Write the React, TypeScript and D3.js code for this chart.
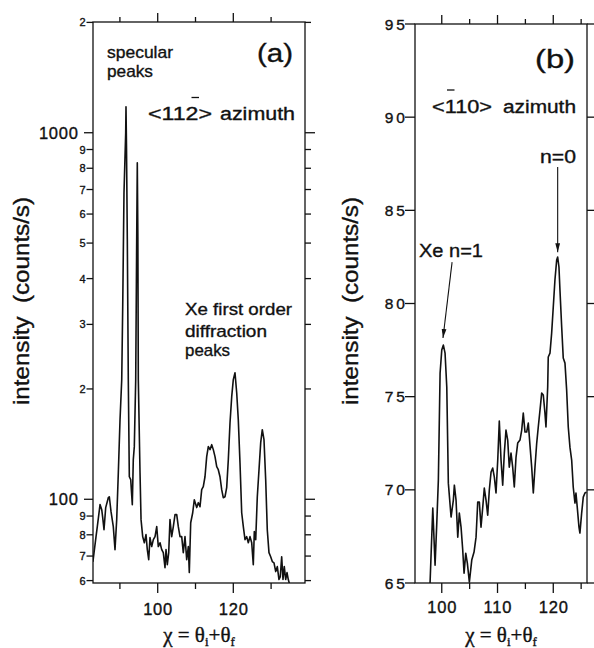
import React from 'react';
import * as d3 from 'd3';

// ---- Panel (a): <11-2> azimuth, log intensity ----
const aChi = [82.85, 83.68, 84.02, 84.74, 85.19, 85.45, 85.79, 86.24, 86.93, 87.2, 87.65, 88.25, 88.7, 89.15, 89.58, 90.03, 90.48, 90.74, 91.08, 91.53, 91.61, 91.75, 91.96, 92.22, 92.49, 92.86, 93.28, 93.54, 93.81, 94.18, 94.44, 94.6, 94.75, 94.87, 95.32, 95.59, 96.03, 96.46, 96.9, 97.25, 97.62, 97.96, 98.41, 98.84, 99.29, 99.74, 100.16, 100.61, 101.06, 101.48, 101.93, 102.2, 102.54, 102.91, 103.25, 103.7, 104.13, 104.58, 105.03, 105.45, 105.9, 106.35, 106.77, 107.22, 107.67, 108.1, 108.36, 108.73, 109.26, 109.68, 110.32, 110.74, 111.19, 111.64, 112.06, 112.51, 112.96, 113.39, 113.84, 114.29, 114.71, 115.16, 115.61, 116.03, 116.48, 116.93, 117.35, 117.8, 118.25, 118.68, 119.13, 119.58, 120.0, 120.45, 120.9, 121.32, 121.77, 122.22, 122.65, 123.1, 123.54, 123.97, 124.42, 124.87, 125.29, 125.56, 125.93, 126.35, 126.8, 127.25, 127.67, 128.12, 128.57, 128.99, 129.44, 129.89, 130.32, 130.77, 131.22, 131.64, 132.09, 132.43, 132.8, 133.15, 133.49, 133.86, 134.21, 134.55, 134.92];
const aIntensity = [67.5, 79.1, 84.2, 96.7, 93.7, 89.1, 82.6, 94.9, 101.0, 101.6, 92.5, 84.2, 72.9, 88.0, 118.2, 164.9, 212, 335, 686, 1000, 1177, 900, 511, 212, 115.2, 113.1, 96.7, 128.2, 139.2, 212, 511, 828, 520, 212, 118.2, 88.0, 79.1, 76.1, 80.1, 72.9, 68.4, 78.6, 74.3, 77.6, 79.1, 84.2, 74.3, 76.1, 72.9, 71.5, 65.1, 72.9, 66.3, 71.5, 88.0, 79.1, 84.2, 90.8, 90.8, 84.2, 79.1, 79.1, 71.5, 79.1, 68.4, 74.3, 63.1, 86.3, 91.9, 99.7, 94.9, 97.9, 95.4, 106.2, 108.2, 115.2, 130.7, 139.2, 136.6, 140.9, 136.6, 130.7, 122.7, 120.4, 115.2, 106.2, 101.0, 101.6, 107.6, 128.2, 161.8, 190.5, 212, 221.4, 195.3, 164.9, 125.8, 91.9, 84.2, 77.6, 79.1, 76.1, 79.1, 76.1, 66.3, 81.6, 77.6, 101.6, 120.4, 142.7, 154.8, 145.4, 113.1, 82.6, 71.5, 69.7, 67.6, 67.1, 63.5, 65.5, 60.4, 61.5, 69.7, 60.4, 65.5, 60.4, 63.1, 60.4, 58.5];

// ---- Panel (b): <-110> azimuth, linear intensity ----
const bChi = [97.9, 98.39, 98.8, 99.1, 99.39, 99.7, 100.0, 100.29, 100.59, 100.9, 101.18, 101.67, 102.08, 102.26, 102.56, 102.87, 103.15, 103.46, 103.76, 104.0, 104.3, 104.59, 104.95, 105.38, 105.79, 106.15, 106.45, 106.74, 107.04, 107.35, 107.63, 107.94, 108.24, 108.53, 108.84, 109.14, 109.43, 109.73, 110.04, 110.32, 110.63, 110.93, 111.22, 111.52, 111.83, 112.11, 112.42, 112.72, 113.01, 113.32, 113.62, 114.03, 114.34, 114.62, 114.93, 115.23, 115.52, 115.82, 116.13, 116.42, 116.72, 117.03, 117.31, 117.62, 117.92, 118.21, 118.51, 118.69, 119.0, 119.1, 119.41, 119.71, 120.0, 120.3, 120.61, 120.79, 121.02, 121.2, 121.51, 121.79, 122.1, 122.4, 122.69, 122.99, 123.3, 123.58, 123.89, 124.07, 124.3, 124.61, 124.78, 125.09, 125.38, 125.68, 125.95];
const bIntensity = [65.0, 69.02, 65.96, 68.16, 70.52, 76.27, 77.5, 77.77, 77.34, 75.52, 70.36, 68.54, 69.45, 70.25, 69.45, 67.46, 68.75, 68.0, 66.77, 65.53, 66.6, 66.07, 65.05, 66.23, 66.66, 67.46, 69.34, 69.34, 68.0, 69.07, 70.09, 69.45, 68.64, 69.99, 70.95, 71.17, 70.68, 69.83, 71.6, 73.69, 71.6, 70.25, 71.97, 73.21, 72.67, 71.22, 71.97, 71.22, 70.15, 71.76, 72.51, 72.67, 73.21, 74.12, 73.1, 73.1, 73.58, 72.4, 71.22, 69.83, 71.22, 72.51, 73.37, 74.28, 75.19, 75.09, 74.12, 73.37, 75.52, 77.13, 77.34, 78.41, 79.81, 81.26, 82.33, 82.49, 81.96, 80.72, 78.74, 77.07, 76.8, 75.35, 73.37, 72.29, 71.6, 70.15, 69.29, 69.83, 69.07, 68.0, 67.68, 68.75, 69.61, 69.83, 69.88];

// ---- Ticks ----
const aXMajor = [100, 120];
const aXMinor = [90, 110, 130];
const aYMajor = [100, 1000];
const aYMinor = [60, 70, 80, 90, 200, 300, 400, 500, 600, 700, 800, 900, 2000];
const aYMinorLabels = ['6', '7', '8', '9', '2', '3', '4', '5', '6', '7', '8', '9', '2'];
const bXMajor = [100, 110, 120];
const bXMinor = [105, 115, 125];
const bYTicks = [65, 70, 75, 80, 85, 90, 95];

const SANS = '"Liberation Sans", Arial, Helvetica, sans-serif';
const SERIF = '"Liberation Serif", "Times New Roman", serif';
const INK = '#111';

export default function App() {
  const ax = d3.scaleLinear().domain([82.88, 138.97]).range([93, 305]);
  const ay = d3.scaleLog().domain([59.1, 2005]).range([583, 22]);
  const bx = d3.scaleLinear().domain([95.2, 126.05]).range([415, 587]);
  const by = d3.scaleLinear().domain([65, 95]).range([583, 24]);

  const aPath = d3.line<number>().x((_, i) => ax(aChi[i])).y((d) => ay(d))(aIntensity) || '';
  const bPath = d3.line<number>().x((_, i) => bx(bChi[i])).y((d) => by(d))(bIntensity) || '';

  const [aL, aR] = ax.range();
  const [aB, aT] = ay.range();
  const [bL, bR] = bx.range();
  const [bB, bT] = by.range();

  const sw = 1.3;
  const ts = { stroke: INK, strokeWidth: 0.35 } as const;

  return (
    <svg width={594} height={648} style={{ position: 'absolute', left: 0, top: 0, background: '#fff' }} fontFamily={SANS}>
      <defs>
        <clipPath id="clipA"><rect x={aL} y={aT} width={aR - aL} height={aB - aT} /></clipPath>
        <clipPath id="clipB"><rect x={bL} y={bT} width={bR - bL} height={bB - bT} /></clipPath>
        <marker id="arrow" markerUnits="userSpaceOnUse" markerWidth={9} markerHeight={6} refX={9} refY={3} orient="auto">
          <path d="M0,0.6 L9,3 L0,5.4 Z" fill={INK} />
        </marker>
      </defs>
      <rect x={0} y={0} width={594} height={648} fill="#fff" />

      {/* ===== Panel (a) ===== */}
      <g stroke={INK} strokeWidth={sw} fill="none">
        <rect x={aL} y={aT} width={aR - aL} height={aB - aT} />
        {aXMajor.map((v) => (
          <g key={'axM' + v}>
            <line x1={ax(v)} x2={ax(v)} y1={aB} y2={aB + 10} />
            <line x1={ax(v)} x2={ax(v)} y1={aT} y2={aT - 9} />
          </g>
        ))}
        {aXMinor.map((v) => (
          <g key={'axm' + v}>
            <line x1={ax(v)} x2={ax(v)} y1={aB} y2={aB + 6} />
            <line x1={ax(v)} x2={ax(v)} y1={aT} y2={aT - 5} />
          </g>
        ))}
        {aYMajor.map((v) => (
          <g key={'ayM' + v}>
            <line x1={aL} x2={aL - 9} y1={ay(v)} y2={ay(v)} />
            <line x1={aR} x2={aR + 10} y1={ay(v)} y2={ay(v)} />
          </g>
        ))}
        {aYMinor.map((v) => (
          <g key={'aym' + v}>
            <line x1={aL} x2={aL - 6.5} y1={ay(v)} y2={ay(v)} />
            <line x1={aR} x2={aR + 6} y1={ay(v)} y2={ay(v)} />
          </g>
        ))}
      </g>
      <path d={aPath} clipPath="url(#clipA)" fill="none" stroke={INK} strokeWidth={1.6} strokeLinejoin="round" />

      {aYMajor.map((v) => (
        <text key={'ayl' + v} x={78.8} y={ay(v) + 5.8} fontSize={16.5} textAnchor="end" fill={INK} {...ts} style={{ letterSpacing: '0.8px' }}>{String(v)}</text>
      ))}
      {aYMinor.map((v, i) => (
        <text key={'ayml' + v} x={85.5} y={ay(v) + 4} fontSize={11} textAnchor="end" fill={INK} {...ts}>{aYMinorLabels[i]}</text>
      ))}
      {aXMajor.map((v) => (
        <text key={'axl' + v} x={ax(v) + 0.4} y={614.5} fontSize={16.5} textAnchor="middle" fill={INK} {...ts} style={{ letterSpacing: '0.8px' }}>{String(v)}</text>
      ))}

      <text transform="translate(28.5,301) rotate(-90)" textAnchor="middle" fontSize={21.5} textLength={208} lengthAdjust="spacingAndGlyphs" fill={INK} {...ts} style={{ whiteSpace: 'pre' }}>intensity  (counts/s)</text>

      <text x={(aL + aR) / 2} y={642} textAnchor="middle" fontFamily={SERIF} fontSize={21} fill={INK} {...ts}>
        {'\u03C7 = \u03B8'}<tspan fontSize={13} dy={4}>i</tspan><tspan dy={-4}>{'+\u03B8'}</tspan><tspan fontSize={13} dy={4}>f</tspan>
      </text>

      <text x={107} y={58} fontSize={17} textLength={66} lengthAdjust="spacingAndGlyphs" fill={INK} {...ts}>specular</text>
      <text x={107} y={77.4} fontSize={17} textLength={46} lengthAdjust="spacingAndGlyphs" fill={INK} {...ts}>peaks</text>
      <text x={257} y={61.5} fontSize={26} textLength={36} lengthAdjust="spacingAndGlyphs" fill={INK} {...ts}>(a)</text>
      <text x={148} y={120} fontSize={18} textLength={64} lengthAdjust="spacingAndGlyphs" fill={INK} {...ts}>{'<112>'}</text>
      <text x={220} y={120} fontSize={18} textLength={75} lengthAdjust="spacingAndGlyphs" fill={INK} {...ts}>azimuth</text>
      <line x1={191.5} x2={199} y1={97.5} y2={97.5} stroke={INK} strokeWidth={1.3} />
      <text x={185} y={315} fontSize={17} textLength={107} lengthAdjust="spacingAndGlyphs" fill={INK} {...ts}>Xe first order</text>
      <text x={185} y={337} fontSize={17} textLength={82} lengthAdjust="spacingAndGlyphs" fill={INK} {...ts}>diffraction</text>
      <text x={185} y={356} fontSize={17} textLength={45} lengthAdjust="spacingAndGlyphs" fill={INK} {...ts}>peaks</text>

      {/* ===== Panel (b) ===== */}
      <g stroke={INK} strokeWidth={sw} fill="none">
        <rect x={bL} y={bT} width={bR - bL} height={bB - bT} />
        {bXMajor.map((v) => (
          <g key={'bxM' + v}>
            <line x1={bx(v)} x2={bx(v)} y1={bB} y2={bB + 10} />
            <line x1={bx(v)} x2={bx(v)} y1={bT} y2={bT - 9} />
          </g>
        ))}
        {bXMinor.map((v) => (
          <g key={'bxm' + v}>
            <line x1={bx(v)} x2={bx(v)} y1={bB} y2={bB + 6} />
            <line x1={bx(v)} x2={bx(v)} y1={bT} y2={bT - 5} />
          </g>
        ))}
        {bYTicks.map((v) => (
          <g key={'by' + v}>
            <line x1={bL} x2={bL - 10} y1={by(v)} y2={by(v)} />
            <line x1={bR} x2={bR + 10} y1={by(v)} y2={by(v)} />
          </g>
        ))}
      </g>
      <path d={bPath} clipPath="url(#clipB)" fill="none" stroke={INK} strokeWidth={1.6} strokeLinejoin="round" />

      {bYTicks.map((v) => (
        <text key={'byl' + v} x={408} y={by(v) + 5.5} fontSize={15.5} textAnchor="end" fill={INK} {...ts} style={{ letterSpacing: '3px' }}>{String(v)}</text>
      ))}
      {bXMajor.map((v) => (
        <text key={'bxl' + v} x={bx(v) + 0.4} y={613.3} fontSize={16.5} textAnchor="middle" fill={INK} {...ts} style={{ letterSpacing: '0.8px' }}>{String(v)}</text>
      ))}

      <text transform="translate(357.5,301) rotate(-90)" textAnchor="middle" fontSize={21.5} textLength={208} lengthAdjust="spacingAndGlyphs" fill={INK} {...ts} style={{ whiteSpace: 'pre' }}>intensity  (counts/s)</text>

      <text x={(bL + bR) / 2} y={642} textAnchor="middle" fontFamily={SERIF} fontSize={21} fill={INK} {...ts}>
        {'\u03C7 = \u03B8'}<tspan fontSize={13} dy={4}>i</tspan><tspan dy={-4}>{'+\u03B8'}</tspan><tspan fontSize={13} dy={4}>f</tspan>
      </text>

      <text x={535} y={67.7} fontSize={25} textLength={40} lengthAdjust="spacingAndGlyphs" fill={INK} {...ts}>(b)</text>
      <text x={432} y={112.7} fontSize={18} textLength={60} lengthAdjust="spacingAndGlyphs" fill={INK} {...ts}>{'<110>'}</text>
      <text x={503} y={112.7} fontSize={18} textLength={73} lengthAdjust="spacingAndGlyphs" fill={INK} {...ts}>azimuth</text>
      <line x1={447} x2={454.5} y1={90} y2={90} stroke={INK} strokeWidth={1.3} />
      <text x={540} y={163} fontSize={18.5} textLength={36} lengthAdjust="spacingAndGlyphs" fill={INK} {...ts}>n=0</text>
      <text x={419} y={256.7} fontSize={19} textLength={64} lengthAdjust="spacingAndGlyphs" fill={INK} {...ts}>Xe n=1</text>

      <line x1={bx(120.79)} x2={bx(120.79)} y1={by(87.32)} y2={by(82.75)} stroke={INK} strokeWidth={1.1} markerEnd="url(#arrow)" />
      <line x1={bx(101.85)} x2={bx(100.22)} y1={by(82.22)} y2={by(78.15)} stroke={INK} strokeWidth={1.1} markerEnd="url(#arrow)" />
    </svg>
  );
}
